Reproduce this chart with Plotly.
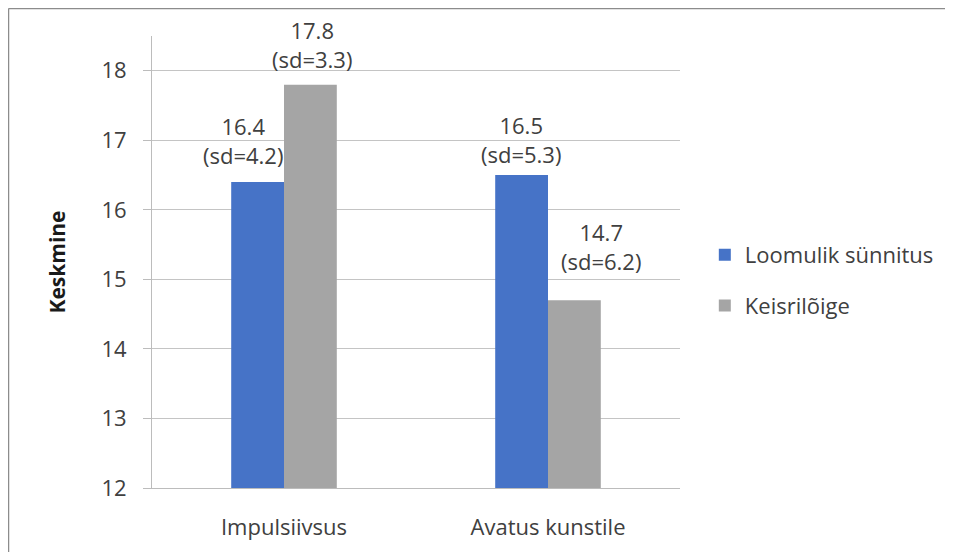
import plotly.graph_objects as go

categories = ["Impulsiivsus", "Avatus kunstile"]
series_names = ["Loomulik sünnitus", "Keisrilõige"]
means_natural = [16.4, 16.5]
sd_natural = [4.2, 5.3]
means_caesar = [17.8, 14.7]
sd_caesar = [3.3, 6.2]
y_ticks = [12, 13, 14, 15, 16, 17, 18]

# manual label placement (pixel shifts relative to category centre / bar top)
label_dx_natural = [-41, -27]
label_dy_natural = [42, 36]
label_dx_caesar = [28, 53]
label_dy_caesar = [40, 54]

FONT = "Open Sans"
TXT = "#404040"
FS = 22

def labels(means, sds):
    return [f"{m:.1f}<br>(sd={s:.1f})" for m, s in zip(means, sds)]

fig = go.Figure()
fig.add_trace(go.Bar(
    x=categories, y=means_natural, name=series_names[0],
    marker=dict(color="#4673c7", line=dict(width=0)),
    legendgroup="a",
))
fig.add_trace(go.Bar(
    x=categories, y=means_caesar, name=series_names[1],
    marker=dict(color="#a5a5a5", line=dict(width=0)),
    legendgroup="b",
))

for means, sds, dxs, dys in [
    (means_natural, sd_natural, label_dx_natural, label_dy_natural),
    (means_caesar, sd_caesar, label_dx_caesar, label_dy_caesar),
]:
    for cat, txt, m, dx, dy in zip(categories, labels(means, sds), means, dxs, dys):
        fig.add_annotation(
            x=cat, y=m, xref="x", yref="y", text=txt, showarrow=False,
            xanchor="center", yanchor="middle", xshift=dx, yshift=dy,
            font=dict(family=FONT, size=FS, color=TXT),
        )

W, H = 945, 544
fig.update_layout(
    width=W, height=H,
    margin=dict(l=144, r=273, t=28, b=64, pad=0, autoexpand=False),
    paper_bgcolor="white", plot_bgcolor="white",
    barmode="group", bargap=0.6, bargroupgap=0,
    font=dict(family=FONT, size=FS, color=TXT),
    legend=dict(
        x=1.047, y=0.459, xanchor="left", yanchor="middle",
        font=dict(family=FONT, size=22, color=TXT),
        tracegroupgap=19, itemwidth=30,
    ),
    showlegend=True,
)
fig.update_yaxes(
    range=[12, 18.5], tickvals=y_ticks, ticktext=[str(v) for v in y_ticks],
    showgrid=True, gridcolor="#c4c4c4", gridwidth=1,
    showline=True, linecolor="#bcbcbc", linewidth=1,
    ticks="outside", ticklen=8, tickcolor="#bcbcbc",
    ticklabelstandoff=12,
    tickfont=dict(family=FONT, size=FS, color=TXT),
    zeroline=False,
    title=dict(text="<b>Keskmine</b>", standoff=30,
               font=dict(family=FONT, size=21, color="#1a1a1a")),
)
fig.update_xaxes(
    showline=True, linecolor="#bcbcbc", linewidth=1,
    ticks="", ticklabelstandoff=20,
    tickfont=dict(family=FONT, size=FS, color=TXT),
)

# chart frame (left and top edges visible in the crop)
plot_w = W - 144 - 273
plot_h = H - 28 - 64
fx = (0.5 - 144) / plot_w
fy = (H - 0.5 - 64) / plot_h
fig.add_shape(type="line", xref="paper", yref="paper",
              x0=fx, x1=fx, y0=fy, y1=-0.2,
              line=dict(color="#8c8c8c", width=1.5))
fig.add_shape(type="line", xref="paper", yref="paper",
              x0=fx, x1=1.6, y0=fy, y1=fy,
              line=dict(color="#8c8c8c", width=1.5))

fig.write_html("out.html")
